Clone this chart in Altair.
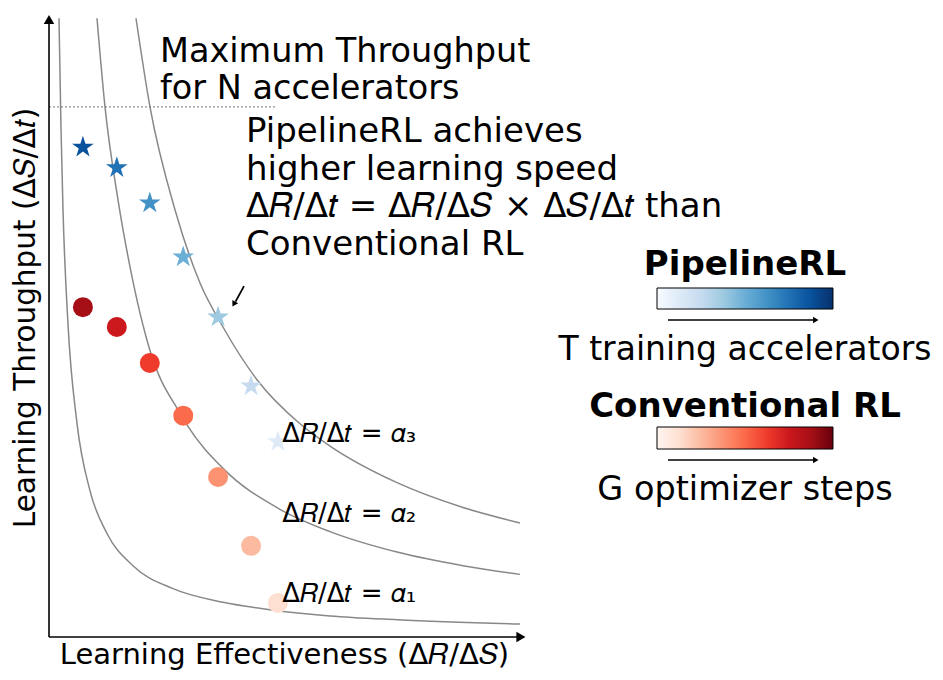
import altair as alt
import pandas as pd

# ---- data (abstract units: x = learning effectiveness, y = learning throughput) ----
c1_x = [0.0212, 0.0255, 0.0297, 0.0403, 0.0594, 0.0870, 0.1231, 0.1783, 0.2633, 0.3694, 0.4692, 0.5966, 0.7389, 1.0]
c1_y = [0.998, 0.820, 0.690, 0.505, 0.345, 0.236, 0.167, 0.115, 0.078, 0.056, 0.044, 0.034, 0.028, 0.021]
c2_x = [0.1019, 0.1189, 0.1465, 0.1720, 0.2144, 0.2781, 0.2930, 0.3694, 0.4904, 0.5966, 0.7389, 0.8790, 1.0]
c2_y = [0.998, 0.855, 0.705, 0.597, 0.462, 0.361, 0.342, 0.272, 0.206, 0.170, 0.137, 0.115, 0.101]
c3_x = [0.1847, 0.2144, 0.2675, 0.3206, 0.3694, 0.4416, 0.5329, 0.5966, 0.7389, 0.8790, 1.0]
c3_y = [0.998, 0.855, 0.689, 0.571, 0.500, 0.415, 0.344, 0.308, 0.249, 0.209, 0.184]

pipe_x = [0.072, 0.144, 0.214, 0.285, 0.359, 0.429, 0.486]
pipe_y = [0.790, 0.757, 0.700, 0.613, 0.516, 0.405, 0.315]
pipe_c = ["#08519c", "#2171b5", "#4292c6", "#6baed6", "#9ecae1", "#c6dbef", "#deebf7"]

conv_x = [0.072, 0.144, 0.214, 0.285, 0.359, 0.429, 0.486]
conv_y = [0.532, 0.500, 0.442, 0.357, 0.258, 0.147, 0.055]
conv_c = ["#a50f15", "#cb181d", "#ef3b2c", "#fb6a4a", "#fc9272", "#fcbba1", "#fee0d2"]

blues = ["#f7fbff", "#deebf7", "#c6dbef", "#9ecae1", "#6baed6", "#4292c6", "#2171b5", "#08519c", "#08306b"]
reds = ["#fff5f0", "#fee0d2", "#fcbba1", "#fc9272", "#fb6a4a", "#ef3b2c", "#cb181d", "#a50f15", "#67000d"]

max_throughput = 0.855
FONT = "DejaVu Sans"
STAR = ("M0,-1L0.2245,-0.309L0.9511,-0.309L0.3633,0.118L0.5878,0.809L0,0.382"
        "L-0.5878,0.809L-0.3633,0.118L-0.9511,-0.309L-0.2245,-0.309Z")

X = lambda f="x": alt.X(f"{f}:Q", scale=alt.Scale(domain=[-0.08705, 1.8811], nice=False, zero=False), axis=None)
Y = lambda f="y": alt.Y(f"{f}:Q", scale=alt.Scale(domain=[-0.05645, 1.01452], nice=False, zero=False), axis=None)

curves = pd.concat([
    pd.DataFrame({"x": c1_x, "y": c1_y, "k": "a1"}),
    pd.DataFrame({"x": c2_x, "y": c2_y, "k": "a2"}),
    pd.DataFrame({"x": c3_x, "y": c3_y, "k": "a3"}),
], ignore_index=True)
curve_layer = alt.Chart(curves).mark_line(color="#888888", strokeWidth=1.5, interpolate="monotone").encode(
    x=X(), y=Y(), detail="k:N")

dotted = alt.Chart(pd.DataFrame({"x": [0.0], "x2": [0.48], "y": [max_throughput]})).mark_rule(
    color="#777777", strokeWidth=1, strokeDash=[2, 2]).encode(x=X(), x2="x2:Q", y=Y())

axes = alt.Chart(pd.DataFrame({"x": [0.0, 0.0], "x2": [1.0, 0.0], "y": [0.0, 0.0], "y2": [0.0, 0.99]})).mark_rule(
    color="black", strokeWidth=1.6).encode(x=X(), x2="x2:Q", y=Y(), y2="y2:Q")
heads = alt.Chart(pd.DataFrame({"x": [1.002, 0.0], "y": [0.0, 0.996], "s": ["triangle-right", "triangle-up"]})).mark_point(
    filled=True, color="black", size=110, opacity=1).encode(x=X(), y=Y(), shape=alt.Shape("s:N", scale=None))

pts_p = alt.Chart(pd.DataFrame({"x": pipe_x, "y": pipe_y, "c": pipe_c})).mark_point(
    shape=STAR, filled=True, size=520, opacity=1).encode(x=X(), y=Y(), color=alt.Color("c:N", scale=None))
pts_c = alt.Chart(pd.DataFrame({"x": conv_x, "y": conv_y, "c": conv_c})).mark_point(
    shape="circle", filled=True, size=400, opacity=1).encode(x=X(), y=Y(), color=alt.Color("c:N", scale=None))

# small pointer arrow
ptr = alt.Chart(pd.DataFrame({"x": [0.414], "x2": [0.396], "y": [0.566], "y2": [0.541]})).mark_rule(
    color="black", strokeWidth=1.8).encode(x=X(), x2="x2:Q", y=Y(), y2="y2:Q")
ptr_head = alt.Chart(pd.DataFrame({"x": [0.3925], "y": [0.537]})).mark_point(
    shape="triangle-down", angle=29, filled=True, color="black", size=45, opacity=1).encode(x=X(), y=Y())


def txt(x, y, text, size, align="left", weight="normal", baseline="alphabetic", angle=0, lh=None):
    kw = dict(text=text, fontSize=size, font=FONT, align=align, baseline=baseline, fontWeight=weight, color="black")
    if angle:
        kw["angle"] = angle
    if lh:
        kw["lineHeight"] = lh
    return alt.Chart(pd.DataFrame({"x": [x], "y": [y]})).mark_text(**kw).encode(x=X(), y=Y())


texts = [
    txt(0.2357, 0.9274, ["Maximum Throughput", "for N accelerators"], 33.5, lh=37),
    txt(0.4183, 0.7984, ["PipelineRL achieves", "higher learning speed",
                         " Δ𝑅/Δ𝑡 = Δ𝑅/Δ𝑆 × Δ𝑆/Δ𝑡 than", "Conventional RL"], 34, lh=37.7),
    txt(0.495, 0.3145, "Δ𝑅/Δ𝑡 = 𝛼₃", 26),
    txt(0.495, 0.1855, "Δ𝑅/Δ𝑡 = 𝛼₂", 26),
    txt(0.495, 0.0565, "Δ𝑅/Δ𝑡 = 𝛼₁", 26),
    txt(0.50, -0.0435, "Learning Effectiveness (Δ𝑅/Δ𝑆)", 29, align="center"),
    txt(-0.0290, 0.5145, "Learning Throughput (Δ𝑆/Δ𝑡)", 29.5, align="center", baseline="alphabetic", angle=270),
    txt(1.4777, 0.5839, "PipelineRL", 34, align="center", weight="bold"),
    txt(1.4777, 0.4468, "T training accelerators", 33, align="center"),
    txt(1.4777, 0.3548, "Conventional RL", 34, align="center", weight="bold"),
    txt(1.4777, 0.2210, "G optimizer steps", 33.5, align="center"),
]


def grad(cols):
    n = len(cols) - 1
    return alt.LinearGradient(gradient="linear", x1=0, x2=1, y1=0, y2=0,
                              stops=[alt.GradientStop(offset=i / n, color=c) for i, c in enumerate(cols)])


bars = [
    alt.Chart(pd.DataFrame({"x": [1.2909], "x2": [1.6645], "y": [0.5629], "y2": [0.529]})).mark_rect(
        fill=grad(blues), stroke="black", strokeWidth=1).encode(x=X(), x2="x2:Q", y=Y(), y2="y2:Q"),
    alt.Chart(pd.DataFrame({"x": [1.2909], "x2": [1.6645], "y": [0.3387], "y2": [0.3032]})).mark_rect(
        fill=grad(reds), stroke="black", strokeWidth=1).encode(x=X(), x2="x2:Q", y=Y(), y2="y2:Q"),
]
leg_arrows = alt.Chart(pd.DataFrame({"x": [1.3142, 1.3142], "x2": [1.625, 1.625], "y": [0.5113, 0.2855]})).mark_rule(
    color="black", strokeWidth=1.6).encode(x=X(), x2="x2:Q", y=Y())
leg_heads = alt.Chart(pd.DataFrame({"x": [1.628, 1.628], "y": [0.5113, 0.2855]})).mark_point(
    shape="triangle-right", filled=True, color="black", size=40, opacity=1).encode(x=X(), y=Y())

chart = alt.layer(curve_layer, dotted, axes, heads, pts_c, pts_p, ptr, ptr_head, *bars, leg_arrows, leg_heads, *texts).properties(
    width=927, height=664, padding=0, autosize=alt.AutoSizeParams(type="none")
).configure_view(stroke=None)

chart.save("out.html", embed_options={"renderer": "svg", "actions": False})
